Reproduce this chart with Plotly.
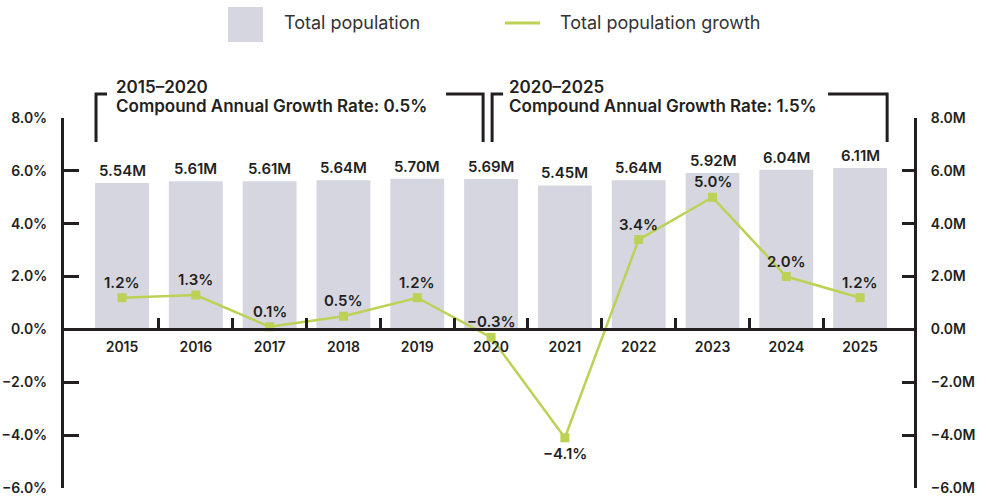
import plotly.graph_objects as go

# ---- data ----
years = [2015, 2016, 2017, 2018, 2019, 2020, 2021, 2022, 2023, 2024, 2025]
population_m = [5.54, 5.61, 5.61, 5.64, 5.70, 5.69, 5.45, 5.64, 5.92, 6.04, 6.11]
growth_pct = [1.2, 1.3, 0.1, 0.5, 1.2, -0.3, -4.1, 3.4, 5.0, 2.0, 1.2]
periods = [(2015, 2020), (2020, 2025)]
period_cagr = [0.5, 1.5]
series_names = ["Total population", "Total population growth"]

# ---- style ----
W, H = 986, 496
ML, MR, MT, MB = 64, 72, 118, 8
INK = "#231f20"
BAR_COLOR = "#d6d6e1"
LINE_COLOR = "#bdd156"
FONT = "Inter"
Y_RANGE = [-6, 8]
X_RANGE = [2014.214, 2025.73]
BAR_WIDTH = 0.73

plot_w = W - ML - MR
plot_h = H - MT - MB


def px_x(p):
    return (p - ML) / plot_w


def px_y(p):
    return (H - MB - p) / plot_h


def minus(s):
    return s.replace("-", "\u2212")


fig = go.Figure()

# population bars on the right-hand (M) axis
fig.add_trace(go.Bar(
    x=years, y=population_m, name=series_names[0],
    marker=dict(color=BAR_COLOR, line=dict(width=0)),
    width=BAR_WIDTH, yaxis="y", showlegend=False, hoverinfo="skip",
))

# growth line on the left-hand (%) axis, drawn above the bars
fig.add_trace(go.Scatter(
    x=years, y=growth_pct, name=series_names[1], mode="lines+markers",
    line=dict(color=LINE_COLOR, width=2.5),
    marker=dict(symbol="square", size=9, color=LINE_COLOR),
    yaxis="y2", showlegend=False, hoverinfo="skip",
))

annotations = []
label_font = dict(family=FONT, size=15, color=INK, weight=600)

# value labels above the bars
for yr, v in zip(years, population_m):
    annotations.append(dict(
        x=yr, y=v, xref="x", yref="y", text=f"{v:.2f}M",
        showarrow=False, yanchor="bottom", yshift=1, font=label_font,
    ))

# value labels for the growth line
for yr, v in zip(years, growth_pct):
    below = v < -1
    annotations.append(dict(
        x=yr, y=v, xref="x", yref="y2", text=minus(f"{v:.1f}%"),
        showarrow=False, yanchor="top" if below else "bottom",
        yshift=-4 if below else 4, font=label_font,
    ))

# period brackets with CAGR captions
shapes = []
bracket_line = dict(color=INK, width=3)
y_top, y_bot = px_y(94), px_y(142)
bracket_specs = [
    # (left edge, left stub end, right line start, right edge) in x-data units
    (periods[0][0] - 0.352, periods[0][0] - 0.203, periods[0][1] - 0.610, periods[0][1] - 0.108),
    (periods[1][0] + 0.014, periods[1][0] + 0.163, periods[1][1] - 0.434, periods[1][1] + 0.366),
]
text_x = [periods[0][0] - 0.108, periods[1][0] + 0.217]
caption_font = dict(family=FONT, size=17, color=INK, weight=600)
for (a, b, c, d), tx, (p0, p1), cagr in zip(bracket_specs, text_x, periods, period_cagr):
    shapes.append(dict(type="path", xref="x", yref="paper",
                       path=f"M {a},{y_bot} L {a},{y_top} L {b},{y_top}",
                       line=bracket_line))
    shapes.append(dict(type="path", xref="x", yref="paper",
                       path=f"M {c},{y_top} L {d},{y_top} L {d},{y_bot}",
                       line=bracket_line))
    for line_text, ypx in ((f"{p0}\u2013{p1}", 87), (f"Compound Annual Growth Rate: {cagr}%", 106)):
        annotations.append(dict(
            x=tx, y=px_y(ypx), xref="x", yref="paper", xanchor="left", yanchor="middle",
            align="left", showarrow=False, text=line_text, font=caption_font,
        ))

# legend
legend_font = dict(family=FONT, size=18, color="#333333")
shapes.append(dict(type="rect", xref="paper", yref="paper",
                   x0=px_x(228), x1=px_x(263), y0=px_y(42), y1=px_y(7),
                   fillcolor=BAR_COLOR, line=dict(width=0)))
annotations.append(dict(x=px_x(282), y=px_y(23), xref="paper", yref="paper",
                        xanchor="left", yanchor="middle", showarrow=False,
                        text=series_names[0], font=legend_font))
shapes.append(dict(type="line", xref="paper", yref="paper",
                   x0=px_x(505), x1=px_x(540), y0=px_y(23), y1=px_y(23),
                   line=dict(color=LINE_COLOR, width=3)))
annotations.append(dict(x=px_x(558), y=px_y(23), xref="paper", yref="paper",
                        xanchor="left", yanchor="middle", showarrow=False,
                        text=series_names[1], font=legend_font))

tick_font = dict(family=FONT, size=14, color=INK, weight=600)
y_ticks = list(range(Y_RANGE[0], Y_RANGE[1] + 1, 2))

fig.update_layout(
    width=W, height=H,
    margin=dict(l=ML, r=MR, t=MT, b=MB, pad=0, autoexpand=False),
    paper_bgcolor="white", plot_bgcolor="white",
    font=dict(family=FONT, color=INK),
    xaxis=dict(
        range=X_RANGE, anchor="free", position=-Y_RANGE[0] / (Y_RANGE[1] - Y_RANGE[0]),
        automargin=False,
        showline=True, linecolor=INK, linewidth=3,
        tickmode="array", tickvals=years, ticktext=[str(y) for y in years],
        ticks="", ticklabelstandoff=4, tickfont=dict(family=FONT, size=14, color=INK, weight=600),
        minor=dict(tickmode="array", tickvals=[y + 0.5 for y in years[:-1]],
                   ticks="inside", ticklen=10, tickwidth=3, tickcolor=INK),
        showgrid=False, zeroline=False, fixedrange=True,
    ),
    yaxis=dict(
        range=Y_RANGE, side="right", anchor="x", automargin=False,
        tickmode="array", tickvals=y_ticks, ticktext=[minus(f"{v:.1f}M") for v in y_ticks],
        ticks="inside", ticklen=12, tickwidth=3, tickcolor=INK,
        showline=True, linecolor=INK, linewidth=3,
        ticklabelstandoff=11, ticklabeloverflow="allow", tickfont=tick_font,
        showgrid=False, zeroline=False,
    ),
    yaxis2=dict(
        range=Y_RANGE, side="left", overlaying="y", anchor="x", automargin=False,
        tickmode="array", tickvals=y_ticks, ticktext=[minus(f"{v:.1f}%") for v in y_ticks],
        ticks="inside", ticklen=15, tickwidth=3, tickcolor=INK,
        showline=True, linecolor=INK, linewidth=3,
        ticklabelstandoff=11, ticklabeloverflow="allow", tickfont=tick_font,
        showgrid=False, zeroline=False,
    ),
    annotations=annotations,
    shapes=shapes,
)

fig.write_html("out.html")
